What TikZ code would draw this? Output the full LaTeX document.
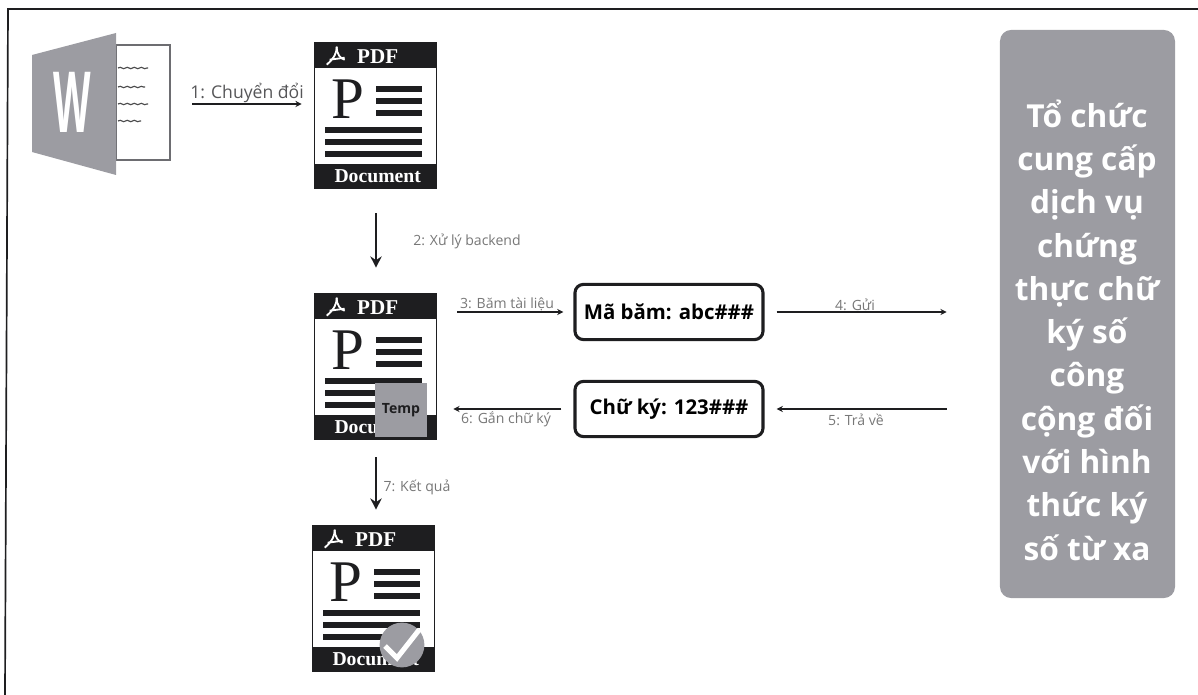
\documentclass[tikz,border=0pt]{standalone}
\usepackage{fontspec}
\setmainfont{Open Sans}
\newfontfamily\pdffont{Liberation Serif}
\usetikzlibrary{arrows.meta,decorations.pathmorphing}
\definecolor{darkink}{HTML}{1E1E20}
\definecolor{softgray}{HTML}{9C9CA2}
\definecolor{labelgray}{HTML}{777777}

\tikzset{
  iconbox/.style={inner sep=0pt,minimum width=3.05cm,minimum height=3.65cm},
  hashbox/.style={draw=darkink,line width=2.2pt,rounded corners=6pt,inner sep=0pt,
    minimum width=4.7cm,minimum height=1.38cm,font=\bfseries\fontsize{14.5}{17}\selectfont},
  thinarrow/.style={draw=darkink,line width=0.75pt,-{Stealth[length=4.5pt,width=4.5pt]}},
  heavyarrow/.style={draw=darkink,line width=1.4pt,-{Stealth[length=8pt,width=8pt]}},
  steplabel/.style={text=labelgray,inner sep=0pt,font=\fontsize{10}{12}\selectfont},
  pdfdoc/.pic={
    % page with its two dark bands
    \draw[darkink,line width=1pt,fill=white] (0,0) rectangle (122,146);
    \fill[darkink] (0,0) rectangle (122,25);
    \fill[darkink] (0,121) rectangle (122,146);
    \draw[white,line width=1.3pt] (12,22) .. controls (20,15) and (22,10) .. (22,4);
    \draw[white,line width=1.3pt] (22,4) .. controls (22,12) and (26,16) .. (30,17);
    \draw[white,line width=1.3pt] (15,17) -- (30,15);
    \node[text=white,inner sep=0pt,font=\pdffont\bfseries\fontsize{15}{17}\selectfont] (-head) at (63,14) {PDF};
    \node[text=white,inner sep=0pt,font=\pdffont\bfseries\fontsize{14}{17}\selectfont] (-foot) at (63,133) {Document};
    \node[text=darkink,inner sep=0pt,font=\pdffont\fontsize{42}{44}\selectfont] (-letter) at (33,56) {P};
    % short bars beside the letter, long bars below
    \foreach \ypos in {43,55,67} \fill[darkink] (61,\ypos) rectangle (107,\ypos+6);
    \foreach \ypos in {84,96,108} \fill[darkink] (10,\ypos) rectangle (107,\ypos+6);
  }
}

\begin{document}
\begin{tikzpicture}[x=0.025cm,y=-0.025cm]
\useasboundingbox (0,0) rectangle (1198,695);

% Scanned frame, only top and left survive
\draw[darkink,line width=1.2pt] (5,695) -- (8,9) -- (1198,9);

% Word file
\node[inner sep=0pt,minimum width=3.45cm,minimum height=3.55cm] (wordfile) at (101,104) {};
\draw[softgray!70!black,line width=0.8pt,fill=white] (116,45) rectangle (170,160);
\foreach \ypos/\xend in {68/148,87/145,104/148,121/141}
  \draw[darkink!80,line width=0.8pt,decorate,decoration={snake,amplitude=0.5pt,segment length=5pt}]
    (118,\ypos) -- (\xend,\ypos);
\fill[softgray] (32,55) -- (116,33) -- (116,175) -- (32,152) -- cycle;
\node[text=white,inner sep=0pt,xscale=0.46,font=\bfseries\fontsize{60}{60}\selectfont] (wordmark) at (72,102) {W};

% The three PDF documents
\node[iconbox] (pdfa) at (376,116) {};
\node[iconbox] (pdfb) at (376,367) {};
\node[iconbox] (pdfc) at (374,599) {};
\pic (pdfaicon) at (pdfa.north west) {pdfdoc};
\pic (pdfbicon) at (pdfb.north west) {pdfdoc};
\pic (pdfcicon) at (pdfc.north west) {pdfdoc};

% Overlays on the second and third document
\node[fill=softgray,text=darkink,inner sep=0pt,minimum width=1.28cm,minimum height=1.35cm,
  font=\fontsize{10}{12}\selectfont\bfseries] (temp) at (401,410) {Temp};
\node[circle,fill=softgray,inner sep=0pt,minimum size=1.12cm] (seal) at (402,645) {};
\draw[white,line width=3.6pt] (385,646) -- (397,658) -- (419,630);

% Hash and signature
\node[hashbox] (hash) at (669,312) {Mã băm: abc\#\#\#};
\node[hashbox] (sign) at (669,409) {Chữ ký: 123\#\#\#};

% Provider
\node[fill=softgray,rounded corners=8pt,inner sep=0pt,minimum width=4.375cm,minimum height=14.2cm] (provider) at (1087.5,314) {};
\node[text=white,align=center,inner sep=0pt,font=\bfseries\fontsize{22.5}{30.8}\selectfont] (providertext) at (1087,330)
  {Tổ chức\\cung cấp\\dịch vụ\\chứng\\thực chữ\\ký số\\công\\cộng đối\\với hình\\thức ký\\số từ xa};

% Steps
\draw[thinarrow,shorten <=0.55cm,shorten >=0.325cm] (wordfile.east) -- (wordfile.east -| pdfa.west);
\draw[heavyarrow,shorten <=0.6cm,shorten >=0.65cm] (pdfa.south) -- (pdfb.north);
\draw[thinarrow,shorten <=0.5cm,shorten >=0.25cm] (hash.west -| pdfb.east) -- (hash.west);
\draw[thinarrow,shorten <=0.3cm,shorten >=1.325cm] (hash.east) -- (hash.east -| provider.west);
\draw[thinarrow,line width=1pt,shorten <=1.325cm,shorten >=0.3cm] (sign.east -| provider.west) -- (sign.east);
\draw[thinarrow,line width=1pt,shorten <=0.3cm,shorten >=0.4cm] (sign.west) -- (sign.west -| pdfb.east);
\draw[heavyarrow,shorten <=0.425cm,shorten >=0.4cm] (pdfb.south) -- (pdfb.south |- pdfc.north);

\node[steplabel,text=darkink!75,font=\fontsize{12.5}{15}\selectfont] (stepa) at (247,93) {1: Chuyển đổi};
\node[steplabel] (stepb) at (467,241) {2: Xử lý backend};
\node[steplabel] (stepc) at (507,304) {3: Băm tài liệu};
\node[steplabel] (stepd) at (855,305) {4: Gửi};
\node[steplabel] (stepe) at (856,420) {5: Trả về};
\node[steplabel] (stepf) at (506,419) {6: Gắn chữ ký};
\node[steplabel] (stepg) at (417,487) {7: Kết quả};

\end{tikzpicture}
\end{document}
